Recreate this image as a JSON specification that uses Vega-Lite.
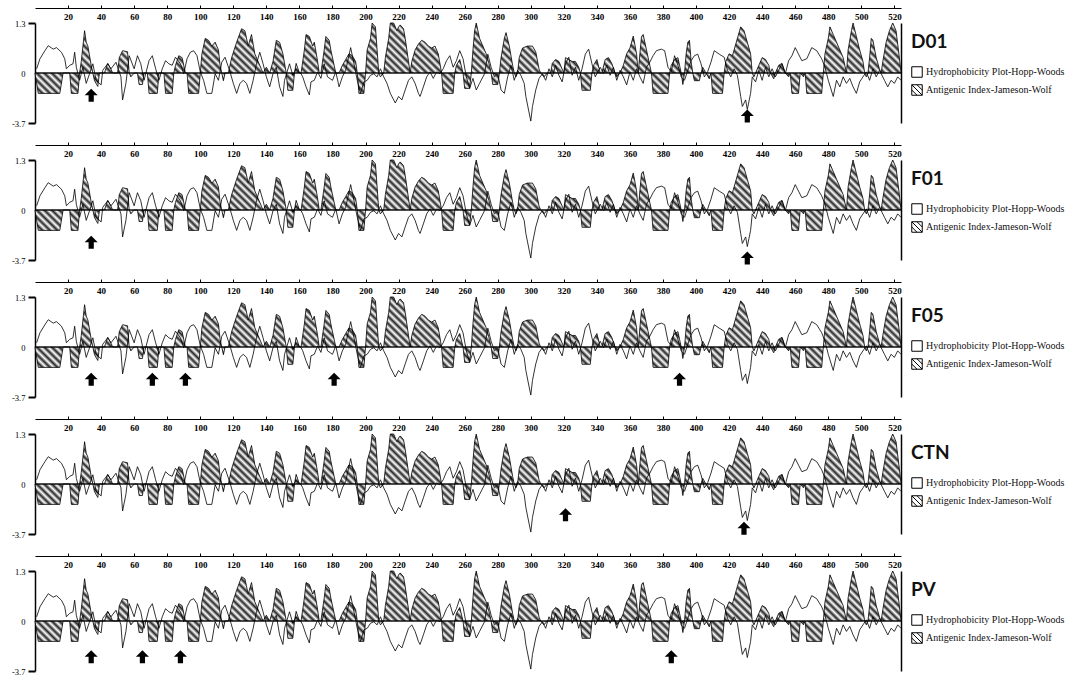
{
"$schema": "https://vega.github.io/schema/vega-lite/v6.json",
"background": "white",
"padding": {"left": 11, "top": 4, "right": 0, "bottom": 0},
"datasets": {
"hyd": [
{"r":1,"h":0.11},{"r":3,"h":0.37},{"r":6,"h":0.58},{"r":8,"h":0.71},{"r":11,"h":0.62},{"r":13,"h":0.66},{"r":16,"h":0.54},{"r":18,"h":0.37},{"r":19,"h":0.11},{"r":21,"h":0.2},{"r":23,"h":0.24},{"r":24,"h":0.54},{"r":25,"h":0.15},{"r":27,"h":-0.19},{"r":29,"h":0.15},{"r":31,"h":-0.27},{"r":33,"h":-0.02},{"r":35,"h":0.24},{"r":37,"h":-0.19},{"r":40,"h":-0.31},{"r":41,"h":0.07},{"r":44,"h":0.24},{"r":46,"h":0.11},{"r":49,"h":0.28},{"r":52,"h":-0.1},{"r":53,"h":-0.7},{"r":55,"h":-0.27},{"r":57,"h":0.45},{"r":60,"h":0.11},{"r":62,"h":0.45},{"r":64,"h":0.24},{"r":66,"h":-0.19},{"r":69,"h":0.32},{"r":71,"h":0.45},{"r":73,"h":0.11},{"r":75,"h":-0.19},{"r":77,"h":0.11},{"r":79,"h":0.32},{"r":81,"h":0.24},{"r":83,"h":0.2},{"r":85,"h":0.41},{"r":88,"h":0.24},{"r":90,"h":-0.02},{"r":92,"h":0.37},{"r":94,"h":0.54},{"r":96,"h":0.58},{"r":98,"h":0.45},{"r":100,"h":0.03},{"r":102,"h":-0.19},{"r":104,"h":-0.53},{"r":107,"h":-0.53},{"r":109,"h":-0.02},{"r":111,"h":-0.19},{"r":113,"h":0.28},{"r":115,"h":0.41},{"r":118,"h":0.03},{"r":120,"h":-0.27},{"r":122,"h":-0.53},{"r":124,"h":-0.27},{"r":126,"h":-0.19},{"r":128,"h":-0.27},{"r":130,"h":-0.53},{"r":132,"h":-0.19},{"r":134,"h":0.24},{"r":136,"h":0.54},{"r":138,"h":0.24},{"r":140,"h":-0.1},{"r":142,"h":-0.36},{"r":144,"h":-0.02},{"r":146,"h":0.15},{"r":148,"h":-0.36},{"r":150,"h":-0.61},{"r":151,"h":-0.19},{"r":154,"h":0.24},{"r":156,"h":-0.06},{"r":158,"h":0.11},{"r":161,"h":-0.02},
{"r":162,"h":-0.1},{"r":164,"h":-0.36},{"r":166,"h":-0.57},{"r":167,"h":-0.23},{"r":169,"h":-0.19},{"r":171,"h":0.03},{"r":173,"h":-0.14},{"r":175,"h":0.24},{"r":177,"h":-0.1},{"r":180,"h":-0.19},{"r":182,"h":0.03},{"r":184,"h":-0.36},{"r":186,"h":-0.1},{"r":188,"h":0.07},{"r":191,"h":0.66},{"r":193,"h":0.24},{"r":195,"h":-0.19},{"r":197,"h":-0.53},{"r":199,"h":-0.23},{"r":201,"h":-0.19},{"r":203,"h":-0.06},{"r":205,"h":-0.02},{"r":207,"h":-0.1},{"r":209,"h":0.11},{"r":211,"h":-0.1},{"r":213,"h":-0.27},{"r":215,"h":-0.53},{"r":218,"h":-0.78},{"r":220,"h":-0.61},{"r":222,"h":-0.7},{"r":224,"h":-0.44},{"r":226,"h":-0.19},{"r":228,"h":-0.1},{"r":230,"h":-0.27},{"r":232,"h":-0.53},{"r":233,"h":-0.61},{"r":235,"h":-0.36},{"r":237,"h":-0.1},{"r":239,"h":0.03},{"r":241,"h":-0.14},{"r":243,"h":0.03},{"r":245,"h":-0.02},{"r":247,"h":0.11},{"r":249,"h":0.32},{"r":251,"h":0.45},{"r":253,"h":0.15},{"r":255,"h":0.32},{"r":257,"h":0.58},{"r":259,"h":0.37},{"r":261,"h":-0.1},{"r":263,"h":-0.4},{"r":265,"h":-0.14},{"r":267,"h":-0.44},{"r":269,"h":-0.27},{"r":272,"h":-0.02},{"r":274,"h":0.49},{"r":276,"h":0.15},{"r":278,"h":-0.1},{"r":280,"h":-0.02},{"r":282,"h":-0.44},{"r":284,"h":-0.53},{"r":286,"h":-0.1},{"r":288,"h":0.2},{"r":290,"h":-0.19},{"r":292,"h":0.07},{"r":294,"h":-0.06},{"r":296,"h":-0.27},{"r":297,"h":-0.61},{"r":299,"h":-1.04},{"r":300,"h":-1.25},{"r":301,"h":-0.87},{"r":303,"h":-0.44},{"r":305,"h":-0.14},{"r":307,"h":-0.02},{"r":309,"h":-0.19},{"r":311,"h":0.11},{"r":313,"h":-0.1},{"r":315,"h":0.2},{"r":317,"h":-0.06},{"r":319,"h":-0.23},{"r":321,"h":0.24},{"r":323,"h":0.41},{"r":325,"h":-0.06},{"r":327,"h":0.15},{"r":329,"h":-0.19},{"r":331,"h":0.11},{"r":333,"h":0.49},{"r":335,"h":0.62},{"r":337,"h":0.24},{"r":339,"h":-0.1},{"r":342,"h":0.15},
{"r":344,"h":-0.02},{"r":346,"h":0.2},{"r":348,"h":-0.06},{"r":350,"h":0.15},{"r":352,"h":-0.19},{"r":354,"h":0.07},{"r":356,"h":-0.1},{"r":358,"h":-0.31},{"r":360,"h":0.03},{"r":362,"h":-0.19},{"r":364,"h":0.11},{"r":366,"h":-0.1},{"r":368,"h":-0.27},{"r":370,"h":0.15},{"r":372,"h":0.28},{"r":374,"h":0.45},{"r":376,"h":0.58},{"r":379,"h":0.62},{"r":381,"h":0.58},{"r":383,"h":0.15},{"r":385,"h":0.03},{"r":387,"h":0.45},{"r":389,"h":0.2},{"r":391,"h":-0.1},{"r":393,"h":-0.19},{"r":395,"h":0.07},{"r":397,"h":0.32},{"r":399,"h":0.45},{"r":401,"h":0.49},{"r":403,"h":0.24},{"r":405,"h":-0.1},{"r":407,"h":0.03},{"r":409,"h":0.28},{"r":411,"h":0.58},{"r":414,"h":0.49},{"r":417,"h":0.41},{"r":419,"h":0.07},{"r":421,"h":-0.1},{"r":423,"h":0.11},{"r":425,"h":-0.06},{"r":427,"h":-0.61},{"r":428,"h":-0.87},{"r":430,"h":-0.7},{"r":431,"h":-0.95},{"r":433,"h":-0.53},{"r":434,"h":-0.1},{"r":436,"h":-0.23},{"r":438,"h":0.07},{"r":440,"h":-0.19},{"r":442,"h":0.15},{"r":444,"h":-0.1},{"r":446,"h":0.11},{"r":448,"h":-0.1},{"r":450,"h":0.07},{"r":452,"h":0.24},{"r":454,"h":-0.02},{"r":456,"h":0.32},{"r":458,"h":0.45},{"r":460,"h":0.66},{"r":462,"h":0.49},{"r":464,"h":0.32},{"r":467,"h":0.37},{"r":470,"h":0.66},{"r":473,"h":0.58},{"r":476,"h":0.37},{"r":478,"h":0.15},{"r":480,"h":-0.19},{"r":483,"h":-0.61},{"r":485,"h":-0.19},{"r":487,"h":-0.36},{"r":489,"h":-0.1},{"r":491,"h":-0.27},{"r":493,"h":-0.14},{"r":495,"h":-0.36},{"r":497,"h":-0.53},{"r":499,"h":-0.23},{"r":501,"h":-0.1},{"r":503,"h":0.03},{"r":505,"h":-0.19},{"r":507,"h":0.11},{"r":509,"h":-0.1},{"r":511,"h":0.07},{"r":514,"h":-0.19},{"r":516,"h":-0.36},{"r":518,"h":-0.19},{"r":520,"h":-0.27},{"r":522,"h":-0.1},{"r":524,"h":-0.19}
],
"ag": [
{"r":0,"a":0},{"r":2,"a":-0.53},{"r":15,"a":-0.53},{"r":17,"a":0},{"r":21,"a":0},{"r":22,"a":-0.53},{"r":26,"a":-0.53},{"r":27,"a":0},{"r":28,"a":0.3},{"r":30,"a":1.1},{"r":31,"a":0.8},{"r":32,"a":0.7},{"r":34,"a":0.2},{"r":35,"a":0},{"r":36,"a":-0.2},{"r":38,"a":-0.35},{"r":39,"a":0},{"r":42,"a":0},{"r":44,"a":0.25},{"r":46,"a":0.1},{"r":47,"a":0},{"r":50,"a":0},{"r":51,"a":0.4},{"r":53,"a":0.58},{"r":56,"a":0.55},{"r":57,"a":0},{"r":58,"a":-0.1},{"r":60,"a":0},{"r":62,"a":0},{"r":63,"a":-0.3},{"r":65,"a":-0.3},{"r":66,"a":0},{"r":68,"a":0},{"r":69,"a":-0.53},{"r":74,"a":-0.53},{"r":75,"a":0},{"r":78,"a":0},{"r":79,"a":-0.53},{"r":83,"a":-0.53},{"r":84,"a":0},{"r":85,"a":0.2},{"r":87,"a":0.45},{"r":89,"a":0.4},{"r":91,"a":0},{"r":92,"a":0},{"r":93,"a":-0.53},{"r":99,"a":-0.53},{"r":100,"a":0},{"r":101,"a":0.5},{"r":103,"a":0.9},{"r":105,"a":0.85},{"r":107,"a":0.7},{"r":109,"a":0.8},{"r":111,"a":0.6},{"r":112,"a":0.2},{"r":113,"a":0},{"r":114,"a":-0.2},{"r":115,"a":0},{"r":117,"a":0},{"r":119,"a":0.4},{"r":122,"a":0.8},{"r":125,"a":1.15},{"r":127,"a":1.1},{"r":129,"a":0.7},{"r":131,"a":1.0},{"r":133,"a":0.5},{"r":135,"a":0.3},{"r":137,"a":0.1},{"r":138,"a":0},{"r":140,"a":0.15},{"r":142,"a":0},{"r":144,"a":0.3},{"r":146,"a":0.85},{"r":148,"a":0.8},{"r":150,"a":0.5},{"r":152,"a":0},{"r":153,"a":-0.45},{"r":156,"a":-0.45},{"r":157,"a":0},{"r":158,"a":0.25},{"r":160,"a":0},{"r":161,"a":0},{"r":163,"a":0.6},{"r":164,"a":1.0},{"r":166,"a":0.95},{"r":168,"a":0.7},{"r":169,"a":0.8},{"r":171,"a":0.3},{"r":172,"a":0},{"r":173,"a":0},{"r":175,"a":0.6},{"r":176,"a":0.95},{"r":178,"a":0.85},{"r":179,"a":0.6},{"r":181,"a":0.2},{"r":182,"a":0},{"r":184,"a":0},{"r":186,"a":0.2},{"r":188,"a":0.35},{"r":190,"a":0.5},{"r":192,"a":0.45},{"r":194,"a":0.3},{"r":195,"a":0},{"r":196,"a":-0.53},{"r":199,"a":-0.53},{"r":200,"a":0},{"r":201,"a":0.6},{"r":203,"a":0.9},{"r":204,"a":1.3},{"r":206,"a":1.2},{"r":207,"a":0.6},{"r":208,"a":0},{"r":209,"a":-0.1},{"r":211,"a":0},{"r":212,"a":0.4},{"r":214,"a":0.9},{"r":215,"a":1.3},{"r":217,"a":1.3},{"r":219,"a":1.1},{"r":220,"a":1.2},{"r":221,"a":1.25},{"r":223,"a":1.15},{"r":224,"a":0.9},{"r":226,"a":0.3},{"r":227,"a":0},{"r":228,"a":0.3},{"r":230,"a":0.6},{"r":232,"a":0.75},{"r":234,"a":0.85},{"r":236,"a":0.8},{"r":238,"a":0.7},{"r":240,"a":0.65},{"r":242,"a":0.7},{"r":244,"a":0.5},{"r":246,"a":0},{"r":247,"a":-0.53},{"r":253,"a":-0.53},{"r":254,"a":0},{"r":255,"a":0.2},{"r":257,"a":0.35},{"r":259,"a":0},{"r":260,"a":-0.4},{"r":263,"a":-0.4},{"r":264,"a":0},{"r":265,"a":0.6},{"r":266,"a":1.1},{"r":267,"a":1.3},{"r":269,"a":0.9},{"r":271,"a":0.7},{"r":273,"a":0.5},{"r":275,"a":0.2},{"r":276,"a":0},{"r":277,"a":-0.3},{"r":280,"a":-0.3},{"r":281,"a":0},{"r":282,"a":0.4},{"r":284,"a":0.9},{"r":285,"a":1.05},{"r":287,"a":0.7},{"r":289,"a":0.2},{"r":290,"a":0},{"r":291,"a":-0.1},{"r":292,"a":0},{"r":293,"a":0.4},{"r":295,"a":0.65},{"r":298,"a":0.7},{"r":301,"a":0.7},{"r":303,"a":0.55},{"r":305,"a":0.1},{"r":306,"a":0},{"r":308,"a":-0.1},{"r":310,"a":0},{"r":312,"a":0},{"r":313,"a":0.25},{"r":315,"a":0.35},{"r":317,"a":0.3},{"r":319,"a":0.1},{"r":320,"a":0},{"r":321,"a":0.4},{"r":323,"a":0.35},{"r":325,"a":0.3},{"r":327,"a":0.3},{"r":329,"a":0.15},{"r":330,"a":0},{"r":331,"a":-0.45},{"r":336,"a":-0.45},{"r":337,"a":0},{"r":338,"a":0.2},{"r":340,"a":0.35},{"r":342,"a":0},{"r":343,"a":0},{"r":345,"a":0.35},{"r":347,"a":0.4},{"r":349,"a":0.25},{"r":351,"a":0},{"r":352,"a":-0.1},{"r":354,"a":0},{"r":356,"a":0.2},{"r":358,"a":0.5},{"r":360,"a":0.65},{"r":362,"a":0.96},{"r":364,"a":0.5},{"r":365,"a":0},{"r":366,"a":0.5},{"r":367,"a":0.95},{"r":368,"a":1.0},{"r":370,"a":0.6},{"r":372,"a":0.2},{"r":373,"a":0},{"r":374,"a":-0.53},{"r":383,"a":-0.53},{"r":384,"a":0},{"r":385,"a":0.2},{"r":387,"a":0.35},{"r":389,"a":0.4},{"r":390,"a":0.2},{"r":391,"a":0},{"r":392,"a":-0.3},{"r":393,"a":0},{"r":394,"a":0.5},{"r":395,"a":0.8},{"r":396,"a":0.85},{"r":397,"a":0.3},{"r":398,"a":0},{"r":399,"a":-0.2},{"r":402,"a":-0.2},{"r":403,"a":0},{"r":404,"a":0.15},{"r":406,"a":0},{"r":408,"a":-0.15},{"r":409,"a":0},{"r":410,"a":-0.53},{"r":416,"a":-0.53},{"r":417,"a":0},{"r":418,"a":0.3},{"r":420,"a":0.5},{"r":422,"a":0.45},{"r":423,"a":0.6},{"r":425,"a":0.9},{"r":427,"a":1.2},{"r":429,"a":1.1},{"r":431,"a":0.8},{"r":433,"a":0.5},{"r":434,"a":0},{"r":435,"a":-0.1},{"r":436,"a":0},{"r":438,"a":0.2},{"r":440,"a":0.4},{"r":442,"a":0.35},{"r":444,"a":0.2},{"r":445,"a":0},{"r":447,"a":-0.15},{"r":448,"a":0},{"r":450,"a":0.2},{"r":452,"a":0.25},{"r":454,"a":0},{"r":456,"a":-0.1},{"r":457,"a":0},{"r":458,"a":-0.53},{"r":462,"a":-0.53},{"r":463,"a":0},{"r":465,"a":-0.1},{"r":466,"a":0},{"r":467,"a":-0.53},{"r":476,"a":-0.53},{"r":477,"a":0},{"r":478,"a":0.5},{"r":480,"a":0.9},{"r":481,"a":1.2},{"r":483,"a":1.0},{"r":485,"a":0.8},{"r":487,"a":0.6},{"r":489,"a":0.4},{"r":490,"a":0.2},{"r":491,"a":0},{"r":492,"a":0.6},{"r":494,"a":1.1},{"r":495,"a":1.3},{"r":497,"a":0.95},{"r":499,"a":0.6},{"r":501,"a":0.3},{"r":502,"a":0},{"r":503,"a":-0.1},{"r":504,"a":0},{"r":505,"a":0.4},{"r":506,"a":0.9},{"r":507,"a":0.85},{"r":509,"a":0.4},{"r":511,"a":0.1},{"r":512,"a":0},{"r":513,"a":0.3},{"r":515,"a":0.8},{"r":517,"a":1.1},{"r":519,"a":1.3},{"r":521,"a":1.1},{"r":523,"a":0.4},{"r":524,"a":0}
],
"arrows": [
{"r":34,"D01":-0.58,"F01":-0.84,"F05":-0.84,"PV":-0.93},
{"r":431,"D01":-1.12,"F01":-1.25},
{"r":71,"F05":-0.84},{"r":91,"F05":-0.84},{"r":181,"F05":-0.84},{"r":390,"F05":-0.84},
{"r":321,"CTN":-0.8},{"r":429,"CTN":-1.15},
{"r":65,"PV":-0.93},{"r":88,"PV":-0.93},{"r":385,"PV":-0.93}
],
"leg": [
{"r":-60,"D01":"Hydrophobicity Plot-Hopp-Woods","F01":"Hydrophobicity Plot-Hopp-Woods","F05":"Hydrophobicity Plot-Hopp-Woods","CTN":"Hydrophobicity Plot-Hopp-Woods","PV":"Hydrophobicity Plot-Hopp-Woods"},
{"r":-60,"D01":"Antigenic Index-Jameson-Wolf","F01":"Antigenic Index-Jameson-Wolf","F05":"Antigenic Index-Jameson-Wolf","CTN":"Antigenic Index-Jameson-Wolf","PV":"Antigenic Index-Jameson-Wolf"}
]
},
"repeat": {"row": ["D01", "F01", "F05", "CTN", "PV"]},
"spacing": 13,
"spec": {
"width": 866,
"height": 100,
"layer": [
{
"data": {"name": "ag"},
"mark": {"type": "area", "stroke": "black", "strokeWidth": 0.8, "opacity": 1,
"fill": {"gradient": "linear", "x1": 0, "y1": 1, "x2": 1.0754, "y2": 0.911, "stops": [
{"offset":0,"color":"#262626"},{"offset":0.004,"color":"#fff"},{"offset":0.008,"color":"#262626"},{"offset":0.012,"color":"#fff"},{"offset":0.016,"color":"#262626"},{"offset":0.02,"color":"#fff"},{"offset":0.024,"color":"#262626"},{"offset":0.028,"color":"#fff"},{"offset":0.032,"color":"#262626"},{"offset":0.036,"color":"#fff"},
{"offset":0.04,"color":"#262626"},{"offset":0.044,"color":"#fff"},{"offset":0.048,"color":"#262626"},{"offset":0.052,"color":"#fff"},{"offset":0.056,"color":"#262626"},{"offset":0.06,"color":"#fff"},{"offset":0.064,"color":"#262626"},{"offset":0.068,"color":"#fff"},{"offset":0.072,"color":"#262626"},{"offset":0.076,"color":"#fff"},
{"offset":0.08,"color":"#262626"},{"offset":0.084,"color":"#fff"},{"offset":0.088,"color":"#262626"},{"offset":0.092,"color":"#fff"},{"offset":0.096,"color":"#262626"},{"offset":0.1,"color":"#fff"},{"offset":0.104,"color":"#262626"},{"offset":0.108,"color":"#fff"},{"offset":0.112,"color":"#262626"},{"offset":0.116,"color":"#fff"},
{"offset":0.12,"color":"#262626"},{"offset":0.124,"color":"#fff"},{"offset":0.128,"color":"#262626"},{"offset":0.132,"color":"#fff"},{"offset":0.136,"color":"#262626"},{"offset":0.14,"color":"#fff"},{"offset":0.144,"color":"#262626"},{"offset":0.148,"color":"#fff"},{"offset":0.152,"color":"#262626"},{"offset":0.156,"color":"#fff"},
{"offset":0.16,"color":"#262626"},{"offset":0.164,"color":"#fff"},{"offset":0.168,"color":"#262626"},{"offset":0.172,"color":"#fff"},{"offset":0.176,"color":"#262626"},{"offset":0.18,"color":"#fff"},{"offset":0.184,"color":"#262626"},{"offset":0.188,"color":"#fff"},{"offset":0.192,"color":"#262626"},{"offset":0.196,"color":"#fff"},
{"offset":0.2,"color":"#262626"},{"offset":0.204,"color":"#fff"},{"offset":0.208,"color":"#262626"},{"offset":0.212,"color":"#fff"},{"offset":0.216,"color":"#262626"},{"offset":0.22,"color":"#fff"},{"offset":0.224,"color":"#262626"},{"offset":0.228,"color":"#fff"},{"offset":0.232,"color":"#262626"},{"offset":0.236,"color":"#fff"},
{"offset":0.24,"color":"#262626"},{"offset":0.244,"color":"#fff"},{"offset":0.248,"color":"#262626"},{"offset":0.252,"color":"#fff"},{"offset":0.256,"color":"#262626"},{"offset":0.26,"color":"#fff"},{"offset":0.264,"color":"#262626"},{"offset":0.268,"color":"#fff"},{"offset":0.272,"color":"#262626"},{"offset":0.276,"color":"#fff"},
{"offset":0.28,"color":"#262626"},{"offset":0.284,"color":"#fff"},{"offset":0.288,"color":"#262626"},{"offset":0.292,"color":"#fff"},{"offset":0.296,"color":"#262626"},{"offset":0.3,"color":"#fff"},{"offset":0.304,"color":"#262626"},{"offset":0.308,"color":"#fff"},{"offset":0.312,"color":"#262626"},{"offset":0.316,"color":"#fff"},
{"offset":0.32,"color":"#262626"},{"offset":0.324,"color":"#fff"},{"offset":0.328,"color":"#262626"},{"offset":0.332,"color":"#fff"},{"offset":0.336,"color":"#262626"},{"offset":0.34,"color":"#fff"},{"offset":0.344,"color":"#262626"},{"offset":0.348,"color":"#fff"},{"offset":0.352,"color":"#262626"},{"offset":0.356,"color":"#fff"},
{"offset":0.36,"color":"#262626"},{"offset":0.364,"color":"#fff"},{"offset":0.368,"color":"#262626"},{"offset":0.372,"color":"#fff"},{"offset":0.376,"color":"#262626"},{"offset":0.38,"color":"#fff"},{"offset":0.384,"color":"#262626"},{"offset":0.388,"color":"#fff"},{"offset":0.392,"color":"#262626"},{"offset":0.396,"color":"#fff"},
{"offset":0.4,"color":"#262626"},{"offset":0.404,"color":"#fff"},{"offset":0.408,"color":"#262626"},{"offset":0.412,"color":"#fff"},{"offset":0.416,"color":"#262626"},{"offset":0.42,"color":"#fff"},{"offset":0.424,"color":"#262626"},{"offset":0.428,"color":"#fff"},{"offset":0.432,"color":"#262626"},{"offset":0.436,"color":"#fff"},
{"offset":0.44,"color":"#262626"},{"offset":0.444,"color":"#fff"},{"offset":0.448,"color":"#262626"},{"offset":0.452,"color":"#fff"},{"offset":0.456,"color":"#262626"},{"offset":0.46,"color":"#fff"},{"offset":0.464,"color":"#262626"},{"offset":0.468,"color":"#fff"},{"offset":0.472,"color":"#262626"},{"offset":0.476,"color":"#fff"},
{"offset":0.48,"color":"#262626"},{"offset":0.484,"color":"#fff"},{"offset":0.488,"color":"#262626"},{"offset":0.492,"color":"#fff"},{"offset":0.496,"color":"#262626"},{"offset":0.5,"color":"#fff"},{"offset":0.504,"color":"#262626"},{"offset":0.508,"color":"#fff"},{"offset":0.512,"color":"#262626"},{"offset":0.516,"color":"#fff"},
{"offset":0.52,"color":"#262626"},{"offset":0.524,"color":"#fff"},{"offset":0.528,"color":"#262626"},{"offset":0.532,"color":"#fff"},{"offset":0.536,"color":"#262626"},{"offset":0.54,"color":"#fff"},{"offset":0.544,"color":"#262626"},{"offset":0.548,"color":"#fff"},{"offset":0.552,"color":"#262626"},{"offset":0.556,"color":"#fff"},
{"offset":0.56,"color":"#262626"},{"offset":0.564,"color":"#fff"},{"offset":0.568,"color":"#262626"},{"offset":0.572,"color":"#fff"},{"offset":0.576,"color":"#262626"},{"offset":0.58,"color":"#fff"},{"offset":0.584,"color":"#262626"},{"offset":0.588,"color":"#fff"},{"offset":0.592,"color":"#262626"},{"offset":0.596,"color":"#fff"},
{"offset":0.6,"color":"#262626"},{"offset":0.604,"color":"#fff"},{"offset":0.608,"color":"#262626"},{"offset":0.612,"color":"#fff"},{"offset":0.616,"color":"#262626"},{"offset":0.62,"color":"#fff"},{"offset":0.624,"color":"#262626"},{"offset":0.628,"color":"#fff"},{"offset":0.632,"color":"#262626"},{"offset":0.636,"color":"#fff"},
{"offset":0.64,"color":"#262626"},{"offset":0.644,"color":"#fff"},{"offset":0.648,"color":"#262626"},{"offset":0.652,"color":"#fff"},{"offset":0.656,"color":"#262626"},{"offset":0.66,"color":"#fff"},{"offset":0.664,"color":"#262626"},{"offset":0.668,"color":"#fff"},{"offset":0.672,"color":"#262626"},{"offset":0.676,"color":"#fff"},
{"offset":0.68,"color":"#262626"},{"offset":0.684,"color":"#fff"},{"offset":0.688,"color":"#262626"},{"offset":0.692,"color":"#fff"},{"offset":0.696,"color":"#262626"},{"offset":0.7,"color":"#fff"},{"offset":0.704,"color":"#262626"},{"offset":0.708,"color":"#fff"},{"offset":0.712,"color":"#262626"},{"offset":0.716,"color":"#fff"},
{"offset":0.72,"color":"#262626"},{"offset":0.724,"color":"#fff"},{"offset":0.728,"color":"#262626"},{"offset":0.732,"color":"#fff"},{"offset":0.736,"color":"#262626"},{"offset":0.74,"color":"#fff"},{"offset":0.744,"color":"#262626"},{"offset":0.748,"color":"#fff"},{"offset":0.752,"color":"#262626"},{"offset":0.756,"color":"#fff"},
{"offset":0.76,"color":"#262626"},{"offset":0.764,"color":"#fff"},{"offset":0.768,"color":"#262626"},{"offset":0.772,"color":"#fff"},{"offset":0.776,"color":"#262626"},{"offset":0.78,"color":"#fff"},{"offset":0.784,"color":"#262626"},{"offset":0.788,"color":"#fff"},{"offset":0.792,"color":"#262626"},{"offset":0.796,"color":"#fff"},
{"offset":0.8,"color":"#262626"},{"offset":0.804,"color":"#fff"},{"offset":0.808,"color":"#262626"},{"offset":0.812,"color":"#fff"},{"offset":0.816,"color":"#262626"},{"offset":0.82,"color":"#fff"},{"offset":0.824,"color":"#262626"},{"offset":0.828,"color":"#fff"},{"offset":0.832,"color":"#262626"},{"offset":0.836,"color":"#fff"},
{"offset":0.84,"color":"#262626"},{"offset":0.844,"color":"#fff"},{"offset":0.848,"color":"#262626"},{"offset":0.852,"color":"#fff"},{"offset":0.856,"color":"#262626"},{"offset":0.86,"color":"#fff"},{"offset":0.864,"color":"#262626"},{"offset":0.868,"color":"#fff"},{"offset":0.872,"color":"#262626"},{"offset":0.876,"color":"#fff"},
{"offset":0.88,"color":"#262626"},{"offset":0.884,"color":"#fff"},{"offset":0.888,"color":"#262626"},{"offset":0.892,"color":"#fff"},{"offset":0.896,"color":"#262626"},{"offset":0.9,"color":"#fff"},{"offset":0.904,"color":"#262626"},{"offset":0.908,"color":"#fff"},{"offset":0.912,"color":"#262626"},{"offset":0.916,"color":"#fff"},
{"offset":0.92,"color":"#262626"},{"offset":0.924,"color":"#fff"},{"offset":0.928,"color":"#262626"},{"offset":0.932,"color":"#fff"},{"offset":0.936,"color":"#262626"},{"offset":0.94,"color":"#fff"},{"offset":0.944,"color":"#262626"},{"offset":0.948,"color":"#fff"},{"offset":0.952,"color":"#262626"},{"offset":0.956,"color":"#fff"},
{"offset":0.96,"color":"#262626"},{"offset":0.964,"color":"#fff"},{"offset":0.968,"color":"#262626"},{"offset":0.972,"color":"#fff"},{"offset":0.976,"color":"#262626"},{"offset":0.98,"color":"#fff"},{"offset":0.984,"color":"#262626"},{"offset":0.988,"color":"#fff"},{"offset":0.992,"color":"#262626"},{"offset":0.996,"color":"#fff"},
{"offset":1,"color":"#262626"}
]}},
"encoding": {
"x": {"field": "r", "type": "quantitative", "title": null,
"scale": {"domain": [0, 524], "nice": false, "zero": false},
"axis": {"orient": "top", "values": [20,40,60,80,100,120,140,160,180,200,220,240,260,280,300,320,340,360,380,400,420,440,460,480,500,520], "tickCount": 40, "offset": 15, "tickSize": 3, "labelPadding": -14, "labelBaseline": "alphabetic", "labelFont": "Liberation Serif", "labelFontSize": 9, "labelFontWeight": "bold", "labelFlush": false, "labelOverlap": false, "labelBound": false, "domainWidth": 1.2, "grid": false}},
"y": {"field": "a", "type": "quantitative", "title": null,
"scale": {"domain": [-1.3, 1.3], "nice": false, "zero": false},
"axis": {"orient": "left", "values": [1.3, 0, -1.3], "tickCount": 5, "labelExpr": "datum.value > 1 ? '1.3' : (datum.value < -1 ? '-3.7' : '0')", "tickSize": 7, "tickWidth": 2, "domainWidth": 1.5, "labelFont": "Liberation Serif", "labelFontSize": 8.5, "labelPadding": 3, "grid": false,
"tickOpacity": {"condition": {"test": "datum.value == 0", "value": 0}, "value": 1}}}
}
},
{
"data": {"name": "hyd"},
"mark": {"type": "line", "color": "black", "strokeWidth": 0.8},
"encoding": {
"x": {"field": "r", "type": "quantitative", "title": null},
"y": {"field": "h", "type": "quantitative", "title": null,
"axis": {"orient": "right", "labels": false, "ticks": false, "grid": false, "domainWidth": 1.5}}
}
},
{
"data": {"values": [{"z": 0}]},
"mark": {"type": "rule", "color": "black", "strokeWidth": 1},
"encoding": {"y": {"field": "z", "type": "quantitative", "title": null, "axis": null}}
},
{
"data": {"name": "arrows"},
"mark": {"type": "point", "shape": "M0,-1L1,0L0.4,0L0.4,1L-0.4,1L-0.4,0L-1,0Z", "filled": true, "color": "black", "opacity": 1, "size": 170},
"encoding": {
"x": {"field": "r", "type": "quantitative", "title": null},
"y": {"field": {"repeat": "row"}, "type": "quantitative", "title": null, "axis": null}
}
},
{
"data": {"name": "leg"},
"mark": {"type": "point", "filled": true, "clip": true, "opacity": 1, "size": 110, "strokeWidth": 1},
"encoding": {
"x": {"field": "r", "type": "quantitative", "title": null},
"y": {"datum": 0, "axis": null},
"fill": {"field": {"repeat": "row"}, "type": "nominal",
"scale": {"domain": ["Hydrophobicity Plot-Hopp-Woods", "Antigenic Index-Jameson-Wolf"], "range": ["#ffffff", "#ffffff"]}},
"stroke": {"field": {"repeat": "row"}, "type": "nominal",
"scale": {"domain": ["Hydrophobicity Plot-Hopp-Woods", "Antigenic Index-Jameson-Wolf"], "range": ["#000000", "#000000"]}},
"shape": {"field": {"repeat": "row"}, "type": "nominal",
"scale": {"domain": ["Hydrophobicity Plot-Hopp-Woods", "Antigenic Index-Jameson-Wolf"], "range": ["square", "M-1,-1H1V1H-1ZM-1,-1L1,1M-1,0L0,1M0,-1L1,0"]}}
}
}
],
"resolve": {"axis": {"y": "independent"}}
},
"resolve": {"scale": {"fill": "independent", "stroke": "independent", "shape": "independent"}, "legend": {"fill": "independent", "stroke": "independent", "shape": "independent"}},
"config": {
"view": {"stroke": null},
"font": "Liberation Serif",
"axis": {"grid": false, "domainColor": "black", "tickColor": "black", "labelColor": "black", "labelOverlap": false},
"legend": {"orient": "right", "offset": 0, "padding": 10, "titleFont": "Lato", "titleFontSize": 19, "titleFontWeight": "bold", "titleColor": "#111", "titlePadding": 14, "labelFont": "Liberation Serif", "labelFontSize": 10, "labelColor": "#111", "labelLimit": 300, "rowPadding": 2, "symbolSize": 110, "symbolStrokeWidth": 1, "labelOffset": 3}
}
}
